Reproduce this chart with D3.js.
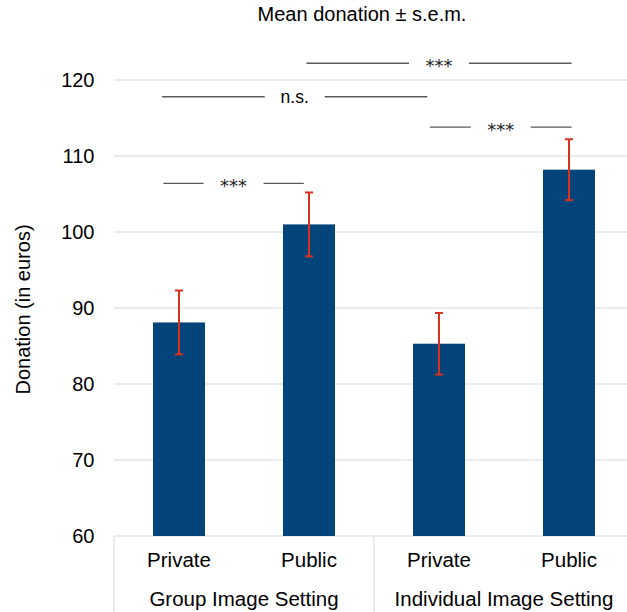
<!DOCTYPE html>
<html><head><meta charset="utf-8">
<script src="https://cdn.jsdelivr.net/npm/d3@7"></script>
<style>body{margin:0;background:#fff}svg{display:block;font-family:"Liberation Sans",Arial,sans-serif}</style>
</head><body><svg id="c" width="627" height="612"></svg>
<script>
const categories = ["Private","Public","Private","Public"];
const groups = ["Group Image Setting","Individual Image Setting"];
const means = [88.1, 101.0, 85.3, 108.2];
const sems = [4.2, 4.2, 4.05, 4.0];
const yTicks = [60,70,80,90,100,110,120];
// brackets: from category pos, to category pos, y value, label
const brFrom = [0.98, -0.13, 1.93, -0.12];
const brTo = [3.02, 1.91, 3.02, 0.96];
const brY = [122.2, 117.8, 113.8, 106.4];
const brLabel = ["***","n.s.","***","***"];

(function(){
const svg = d3.select("#c");
const W = 627, H = 612;
const pL = 114, pR = 634, pT = 80, pB = 536;
const y = d3.scaleLinear().domain([60,120]).range([pB, pT]);
const x = d3.scaleBand().domain(d3.range(categories.length)).range([pL, pR]).paddingInner(0.6).paddingOuter(0.3);
const cpos = d3.scaleLinear().domain([0,1]).range([x(0)+x.bandwidth()/2, x(1)+x.bandwidth()/2]);

// gridlines
svg.append("g").selectAll("line").data(yTicks).join("line")
  .attr("x1", pL).attr("x2", W).attr("y1", d=>y(d)).attr("y2", d=>y(d))
  .attr("stroke", "#d9d9d9").attr("stroke-width", 1);
// tick labels
svg.append("g").selectAll("text").data(yTicks).join("text")
  .attr("x", 94.5).attr("y", d=>y(d)+7).attr("text-anchor","end")
  .attr("font-size", 20).attr("fill","#000").text(d=>d);

// category box
const step = x.step();
svg.append("line").attr("x1", pL).attr("x2", pL).attr("y1", pB).attr("y2", H).attr("stroke","#d9d9d9");
svg.append("line").attr("x1", pL+2*step).attr("x2", pL+2*step).attr("y1", pB).attr("y2", H).attr("stroke","#d9d9d9");

// bars
svg.append("g").selectAll("rect").data(means).join("rect")
  .attr("x", (d,i)=>x(i)).attr("width", x.bandwidth())
  .attr("y", d=>y(d)).attr("height", d=>y(60)-y(d))
  .attr("fill", "#03457a");

// error bars
const eb = svg.append("g").attr("stroke","#d8321e").attr("stroke-width",2);
means.forEach((m,i)=>{
  const cx = x(i)+x.bandwidth()/2;
  eb.append("line").attr("x1",cx).attr("x2",cx).attr("y1",y(m+sems[i])).attr("y2",y(m-sems[i]));
  eb.append("line").attr("x1",cx-4).attr("x2",cx+4).attr("y1",y(m+sems[i])).attr("y2",y(m+sems[i]));
  eb.append("line").attr("x1",cx-4).attr("x2",cx+4).attr("y1",y(m-sems[i])).attr("y2",y(m-sems[i]));
});

// category labels
svg.append("g").selectAll("text").data(categories).join("text")
  .attr("x",(d,i)=>x(i)+x.bandwidth()/2).attr("y",567)
  .attr("text-anchor","middle").attr("font-size",20.5).text(d=>d);
svg.append("g").selectAll("text").data(groups).join("text")
  .attr("x",(d,i)=>pL+step*(2*i+1)).attr("y",605.5)
  .attr("text-anchor","middle").attr("font-size",20.5).text(d=>d);

// brackets
const gap = 30;
brLabel.forEach((lab,i)=>{
  const x1 = cpos(brFrom[i]), x2 = cpos(brTo[i]), yy = y(brY[i]);
  const mid = (x1+x2)/2;
  const g = svg.append("g");
  g.append("line").attr("x1",x1).attr("x2",mid-gap).attr("y1",yy).attr("y2",yy).attr("stroke","#595959").attr("stroke-width",1.4);
  g.append("line").attr("x1",mid+gap).attr("x2",x2).attr("y1",yy).attr("y2",yy).attr("stroke","#595959").attr("stroke-width",1.4);
  if (lab === "n.s.") {
    g.append("text").attr("x",mid).attr("y",yy+6).attr("text-anchor","middle").attr("font-size",17.5)
      .attr("fill","#000").text(lab);
  } else {
    g.append("text").attr("x",mid).attr("y",yy+8.5).attr("text-anchor","middle").attr("font-size",18)
      .attr("font-family","'DejaVu Sans',sans-serif").attr("fill","#222").text(lab);
  }
});

// title
svg.append("text").attr("x",362).attr("y",21).attr("text-anchor","middle")
  .attr("font-size",20).text("Mean donation ± s.e.m.");
// y-axis label
svg.append("text").attr("transform","translate(30,309.5) rotate(-90)")
  .attr("text-anchor","middle").attr("font-size",20).text("Donation (in euros)");
})();
</script></body></html>
